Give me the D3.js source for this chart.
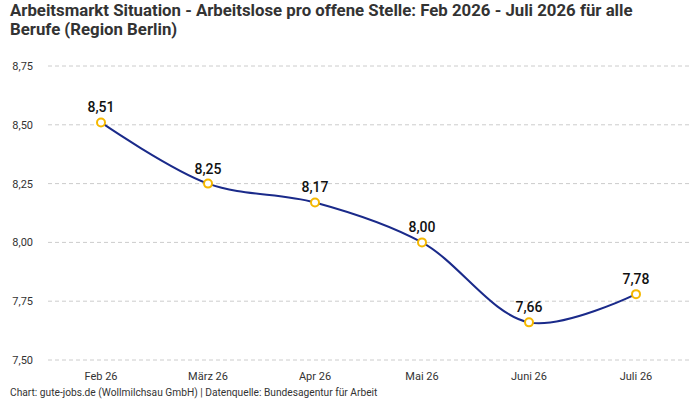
<!DOCTYPE html>
<html>
<head>
<meta charset="utf-8">
<script src="https://cdn.jsdelivr.net/npm/d3@7"></script>
<style>
  body { margin: 0; background: #fff; }
  text { font-family: Roboto, "Noto Sans", sans-serif; }
</style>
</head>
<body>
<div id="chart"></div>
<script>
// chart values
const months = ["Feb 26", "März 26", "Apr 26", "Mai 26", "Juni 26", "Juli 26"];
const values = [8.51, 8.25, 8.17, 8.00, 7.66, 7.78];
const yTicks = [7.50, 7.75, 8.00, 8.25, 8.50, 8.75];

const width = 700;
const height = 400;
const margin = {left: 48, right: 10, top: 66, bottom: 40};

const svg = d3.select("#chart")
  .append("svg")
  .attr("width", width)
  .attr("height", height);

const fmt = v => d3.format(".2f")(v).replace(".", ",");

const x = d3.scalePoint()
  .domain(months)
  .range([101, 636]);

const y = d3.scaleLinear()
  .domain([7.5, 8.75])
  .range([height - margin.bottom, margin.top]);

// title
svg.append("text")
  .attr("x", 10).attr("y", 16)
  .attr("font-size", 16.8).attr("font-weight", "bold").attr("fill", "#333")
  .text("Arbeitsmarkt Situation - Arbeitslose pro offene Stelle: Feb 2026 - Juli 2026 für alle");
svg.append("text")
  .attr("x", 10).attr("y", 35)
  .attr("font-size", 16.8).attr("font-weight", "bold").attr("fill", "#333")
  .text("Berufe (Region Berlin)");

// grid + y labels
svg.append("g")
  .selectAll("line")
  .data(yTicks)
  .join("line")
    .attr("x1", margin.left).attr("x2", width - margin.right)
    .attr("y1", d => y(d)).attr("y2", d => y(d))
    .attr("stroke", "#ccc")
    .attr("stroke-dasharray", "4,3");

svg.append("g")
  .selectAll("text")
  .data(yTicks)
  .join("text")
    .attr("x", 33).attr("y", d => y(d) + 4)
    .attr("text-anchor", "end")
    .attr("font-size", 11).attr("fill", "#333")
    .text(d => fmt(d));

// x labels
svg.append("g")
  .selectAll("text")
  .data(months)
  .join("text")
    .attr("x", d => x(d)).attr("y", 380)
    .attr("text-anchor", "middle")
    .attr("font-size", 11).attr("fill", "#333")
    .text(d => d);

// line
const line = d3.line()
  .x((d, i) => x(months[i]))
  .y(d => y(d))
  .curve(d3.curveCatmullRom.alpha(0.5));

svg.append("path")
  .datum(values)
  .attr("d", line)
  .attr("fill", "none")
  .attr("stroke", "#1a2a8a")
  .attr("stroke-width", 2);

svg.append("g")
  .selectAll("circle")
  .data(values)
  .join("circle")
    .attr("cx", (d, i) => x(months[i]))
    .attr("cy", d => y(d))
    .attr("r", 4)
    .attr("fill", "#fff")
    .attr("stroke", "#f5b800")
    .attr("stroke-width", 2);

svg.append("g")
  .selectAll("text")
  .data(values)
  .join("text")
    .attr("x", (d, i) => x(months[i]))
    .attr("y", d => y(d) - 10)
    .attr("text-anchor", "middle")
    .attr("font-size", 14).attr("font-weight", 500).attr("fill", "#111")
    .text(d => fmt(d));

// footer
svg.append("text")
  .attr("x", 10).attr("y", 396)
  .attr("font-size", 10.2).attr("fill", "#333")
  .text("Chart: gute-jobs.de (Wollmilchsau GmbH) | Datenquelle: Bundesagentur für Arbeit");
</script>
</body>
</html>
